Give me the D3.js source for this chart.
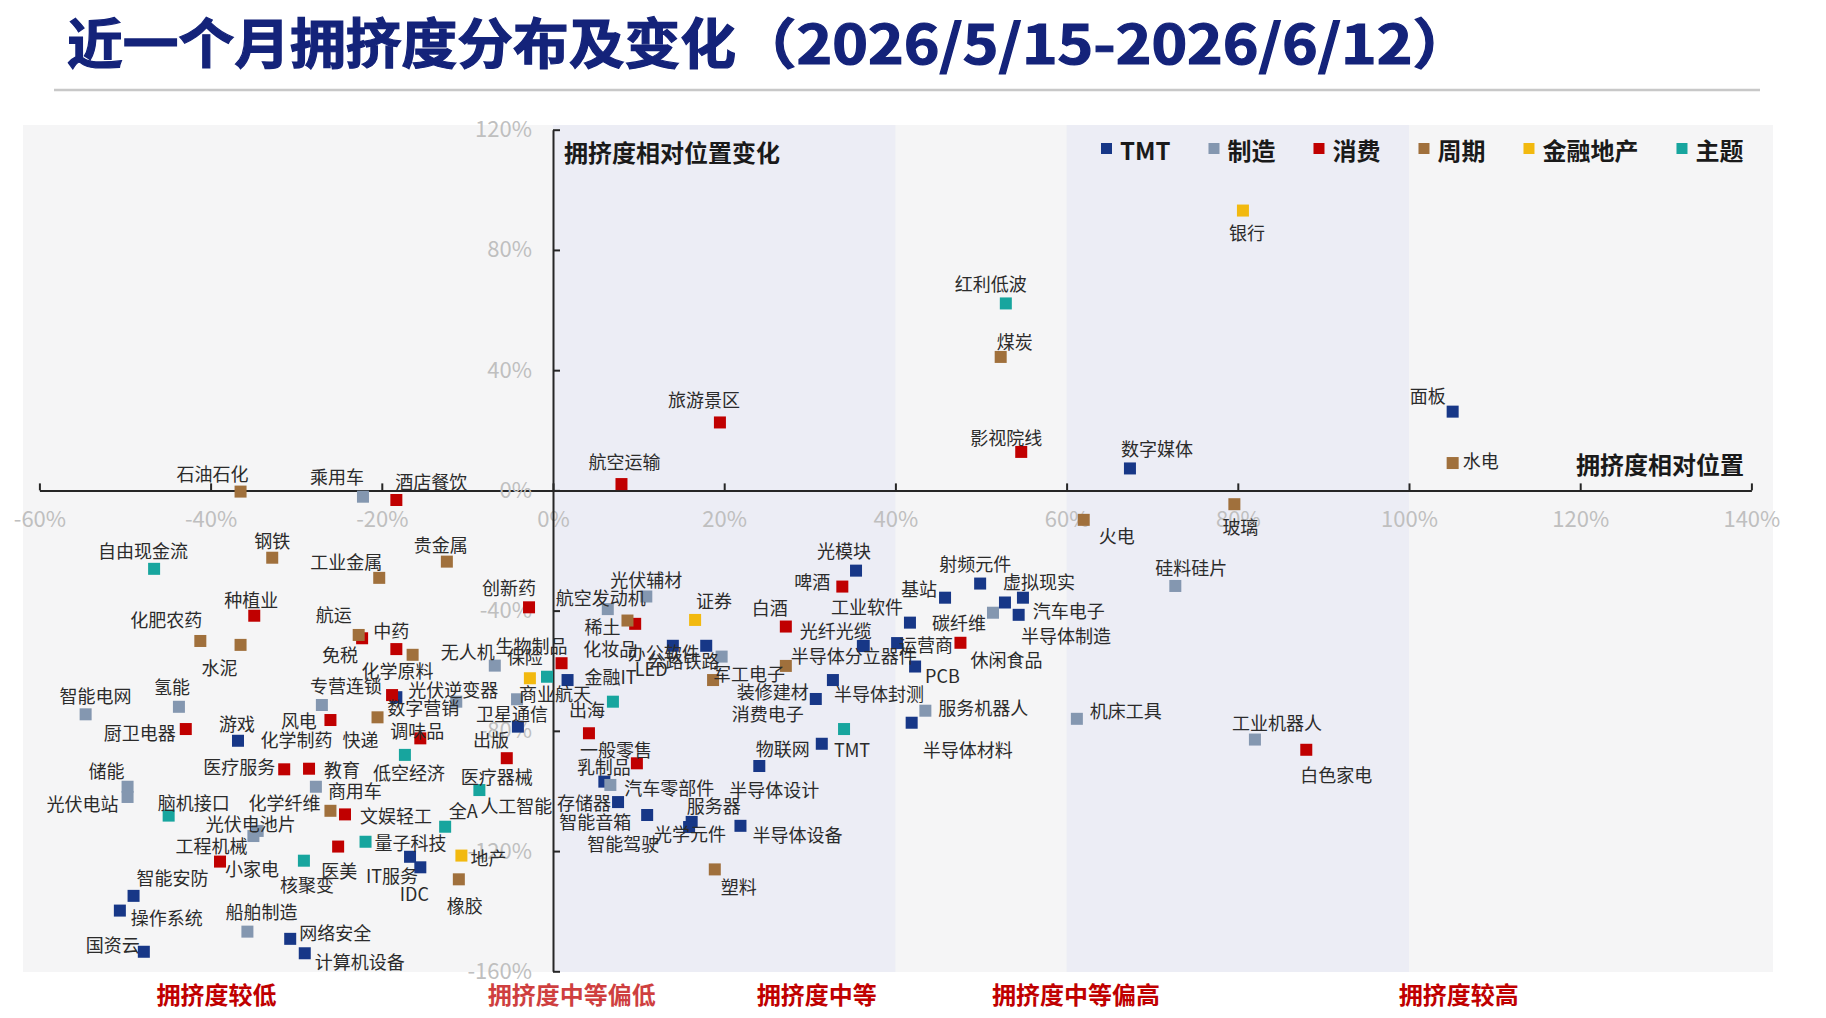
<!DOCTYPE html>
<html>
<head>
<meta charset="utf-8">
<script src="https://cdn.jsdelivr.net/npm/d3@7"></script>
<style>
  body { margin: 0; background: #fff; }
  svg text { font-family: "Noto Sans CJK SC", "Noto Sans", sans-serif; }
</style>
</head>
<body>
<svg id="chart" width="1826" height="1018"></svg>
<script>
// sector groups and their legend colours
var groups = ["TMT", "制造", "消费", "周期", "金融地产", "主题"];
var groupColors = ["#173787", "#8497B0", "#C00000", "#A0703C", "#F2B90F", "#17A59E"];

// sectors: name, group index, crowding position (%), change of position (%)
var sectorNames = [
  // TMT
  "面板", "数字媒体", "光模块", "射频元件", "基站", "虚拟现实", "半导体制造", "汽车电子",
  "工业软件", "运营商", "光纤光缆", "半导体分立器件", "PCB", "半导体封测", "消费电子",
  "半导体材料", "物联网", "半导体设计", "半导体设备", "服务器", "光学元件", "存储器",
  "智能驾驶", "智能音箱", "办公软件", "LED", "金融IT", "出版", "数字营销", "游戏",
  "IT服务", "IDC", "智能安防", "操作系统", "国资云", "网络安全", "计算机设备",
  // 制造
  "乘用车", "硅料硅片", "工业机器人", "机床工具", "碳纤维", "服务机器人", "风电", "智能电网",
  "氢能", "光伏逆变器", "商用车", "储能", "光伏电站", "光伏电池片", "工程机械", "船舶制造",
  "航空发动机", "光伏辅材", "公路铁路", "无人机", "卫星通信", "汽车零部件",
  // 消费
  "酒店餐饮", "航空运输", "旅游景区", "影视院线", "白色家电", "啤酒", "白酒", "休闲食品",
  "种植业", "免税", "中药", "专营连锁", "化学制药", "厨卫电器", "调味品", "医疗服务", "教育",
  "文娱轻工", "小家电", "医美", "创新药", "化妆品", "生物制品", "一般零售", "乳制品", "医疗器械",
  // 周期
  "石油石化", "煤炭", "水电", "玻璃", "火电", "钢铁", "工业金属", "化肥农药", "水泥", "航运",
  "化学原料", "快递", "化学纤维", "贵金属", "稀土", "军工电子", "装修建材", "塑料", "橡胶",
  // 金融地产
  "银行", "证券", "保险", "地产",
  // 主题
  "红利低波", "自由现金流", "低空经济", "脑机接口", "核聚变", "量子科技", "全A", "人工智能",
  "商业航天", "出海", "TMT"
];
var sectorGroups = [
  0,0,0,0,0,0,0,0,0,0,0,0,0,0,0,0,0,0,0,0,0,0,0,0,0,0,0,0,0,0,0,0,0,0,0,0,0,
  1,1,1,1,1,1,1,1,1,1,1,1,1,1,1,1,1,1,1,1,1,1,
  2,2,2,2,2,2,2,2,2,2,2,2,2,2,2,2,2,2,2,2,2,2,2,2,2,2,
  3,3,3,3,3,3,3,3,3,3,3,3,3,3,3,3,3,3,3,
  4,4,4,4,
  5,5,5,5,5,5,5,5,5,5,5
];
var relPosition = [
  105.1, 67.4, 35.4, 49.9, 45.8, 54.9, 52.8, 54.4, 41.7, 40.2, 36.3, 36.2, 42.3, 32.7, 30.7,
  41.9, 31.4, 24.1, 21.9, 16.2, 15.9, 7.6, 11.0, 6.0, 14.0, 17.9, 1.7, -4.1, -18.3, -36.8,
  -16.7, -15.5, -49.0, -50.6, -47.8, -30.7, -29.0,
  -22.2, 72.7, 82.0, 61.2, 51.4, 43.5, -27.0, -54.6, -43.7, -11.3, -27.7, -49.7, -49.7, -34.5,
  -35.0, -35.7, 6.4, 10.9, 19.7, -6.8, -4.2, 6.7,
  -18.3, 8.0, 19.5, 54.7, 88.0, 33.8, 27.2, 47.6, -34.9, -22.3, -18.3, -18.8, -26.0, -42.9,
  -15.5, -31.4, -28.5, -24.3, -38.9, -25.1, -2.8, 9.6, 1.0, 4.2, 9.8, -5.4,
  -36.5, 52.3, 105.1, 79.6, 62.0, -32.8, -20.3, -41.2, -36.5, -22.7, -16.4, -20.5, -26.0,
  -12.4, 8.7, 18.7, 27.2, 18.9, -11.0,
  80.6, 16.6, -2.7, -10.7,
  52.9, -46.6, -17.3, -44.9, -29.1, -21.9, -12.6, -8.6, -0.7, 7.0, 34.0
];
var relChange = [
  26.2, 7.3, -26.7, -31.0, -35.7, -35.7, -37.3, -41.4, -44.0, -50.8, -51.7, -51.8, -58.6,
  -63.1, -69.4, -77.3, -84.3, -91.7, -111.6, -110.3, -112.0, -103.7, -108.0, -96.9, -51.7,
  -51.7, -63.1, -78.6, -68.8, -83.3, -121.9, -125.4, -134.9, -139.8, -153.5, -149.2, -154.0,
  -2.1, -31.8, -82.9, -76.0, -40.7, -73.3, -71.4, -74.5, -72.0, -70.3, -98.6, -98.6, -102.0,
  -113.3, -115.0, -146.8, -39.5, -35.3, -55.3, -58.3, -69.5, -98.0,
  -3.2, 2.1, 22.6, 12.8, -86.3, -32.0, -45.3, -50.7, -41.7, -49.2, -52.8, -68.1, -76.4,
  -79.4, -82.5, -92.8, -92.6, -107.8, -123.5, -118.5, -38.9, -44.4, -57.5, -80.8, -90.8, -89.1,
  -0.4, 44.4, 9.1, -4.6, -9.8, -22.4, -29.1, -50.1, -51.4, -48.1, -54.7, -75.5, -106.6,
  -23.7, -43.3, -63.1, -58.4, -126.1, -129.4,
  93.1, -43.1, -62.5, -121.5,
  62.2, -26.1, -88.0, -108.2, -123.2, -116.9, -111.9, -99.7, -62.0, -70.3, -79.4
];

var xTicks = [-60, -40, -20, 0, 20, 40, 60, 80, 100, 120, 140];
var yTicks = [120, 80, 40, 0, -40, -80, -120, -160];
var bandNames = ["拥挤度较低", "拥挤度中等偏低", "拥挤度中等", "拥挤度中等偏高", "拥挤度较高"];

// layout: where each data label sits relative to its marker [dx, dy, anchor]
var labelPlacement = {
  "面板": [-25, -17, "m"], "数字媒体": [27, -20, "m"], "光模块": [-12, -21, "m"],
  "射频元件": [-5, -21, "m"], "基站": [-8, -10, "e"], "虚拟现实": [16, -17, "m"],
  "半导体制造": [61, 33, "m"], "汽车电子": [14, -5, "s"], "工业软件": [-43, -17, "m"],
  "运营商": [29, 1, "m"], "光纤光缆": [-28, -16, "m"], "半导体分立器件": [-9, 9, "m"],
  "PCB": [10, 8, "s"], "半导体封测": [1, 13, "s"], "消费电子": [-48, 14, "m"],
  "半导体材料": [56, 26, "m"], "物联网": [-12, 4, "e"], "半导体设计": [15, 23, "m"],
  "半导体设备": [12, 8, "s"], "服务器": [22, -17, "m"], "光学元件": [1, 6, "m"],
  "存储器": [-7, 0, "e"], "智能驾驶": [-24, 28, "m"], "智能音箱": [-9, 39, "m"],
  "办公软件": [-9, 6, "m"], "LED": [-55, 22, "m"], "金融IT": [17, -4, "s"],
  "出版": [-27, 12, "m"], "数字营销": [27, 10, "m"], "游戏": [-1, -18, "m"],
  "IT服务": [-18, 18, "m"], "IDC": [-6, 26, "m"], "智能安防": [39, -19, "m"],
  "操作系统": [11, 6, "s"], "国资云": [-31, -8, "m"], "网络安全": [9, -7, "s"],
  "计算机设备": [10, 8, "s"],
  "乘用车": [-26, -21, "m"], "硅料硅片": [16, -19, "m"], "工业机器人": [22, -18, "m"],
  "机床工具": [13, -9, "s"], "碳纤维": [-34, 9, "m"], "服务机器人": [13, -4, "s"],
  "风电": [-23, 15, "m"], "智能电网": [10, -19, "m"], "氢能": [-7, -21, "m"],
  "光伏逆变器": [-3, -13, "m"], "商用车": [12, 3, "s"], "储能": [-21, -17, "m"],
  "光伏电站": [-9, 6, "e"], "光伏电池片": [-7, -8, "m"], "工程机械": [-42, 9, "m"],
  "船舶制造": [14, -21, "m"], "航空发动机": [-7, -12, "m"], "光伏辅材": [0, -17, "m"],
  "公路铁路": [-38, 3, "m"], "无人机": [-27, -15, "m"], "卫星通信": [-5, 14, "m"],
  "汽车零部件": [14, 2, "s"],
  "酒店餐饮": [35, -19, "m"], "航空运输": [3, -23, "m"], "旅游景区": [-16, -23, "m"],
  "影视院线": [-15, -15, "m"], "白色家电": [30, 24, "m"], "啤酒": [-12, -6, "e"],
  "白酒": [-16, -20, "m"], "休闲食品": [46, 16, "m"], "种植业": [-3, -17, "m"],
  "免税": [-22, 16, "m"], "中药": [-5, -19, "m"], "专营连锁": [-46, -10, "m"],
  "化学制药": [-34, 19, "m"], "厨卫电器": [-10, 3, "e"], "调味品": [-3, -8, "m"],
  "医疗服务": [-9, -3, "e"], "教育": [15, 0, "s"], "文娱轻工": [15, 1, "s"],
  "小家电": [32, 6, "m"], "医美": [1, 23, "m"], "创新药": [-20, -20, "m"],
  "化妆品": [-25, 24, "m"], "生物制品": [-30, -18, "m"], "一般零售": [27, 16, "m"],
  "乳制品": [-33, 3, "m"], "医疗器械": [-10, 18, "m"],
  "石油石化": [-28, -19, "m"], "煤炭": [14, -16, "m"], "水电": [10, -3, "s"],
  "玻璃": [6, 22, "m"], "火电": [33, 15, "m"], "钢铁": [0, -18, "m"],
  "工业金属": [-33, -17, "m"], "化肥农药": [-34, -22, "m"], "水泥": [-21, 22, "m"],
  "航运": [-25, -21, "m"], "化学原料": [-15, 15, "m"], "快递": [-17, 22, "m"],
  "化学纤维": [-46, -9, "m"], "贵金属": [-6, -18, "m"], "稀土": [-25, 5, "m"],
  "军工电子": [36, -7, "m"], "装修建材": [-13, 25, "m"], "塑料": [24, 17, "m"],
  "橡胶": [6, 26, "m"],
  "银行": [4, 21, "m"], "证券": [19, -20, "m"], "保险": [-5, -22, "m"], "地产": [9, 1, "s"],
  "红利低波": [-15, -20, "m"], "自由现金流": [-11, -19, "m"], "低空经济": [4, 17, "m"],
  "脑机接口": [25, -14, "m"], "核聚变": [3, 23, "m"], "量子科技": [9, 0, "s"],
  "全A": [18, -17, "m"], "人工智能": [37, 15, "m"], "商业航天": [8, 16, "m"],
  "出海": [-26, 7, "m"], "TMT": [8, 20, "m"]
};
var bandLabelAt = [-39.3, 2.2, 30.8, 61.1, 105.8];
var lavenderBands = [[0, 40], [60, 100]];

var svg = d3.select("#chart");
var x = d3.scaleLinear().domain([-60, 140]).range([39.4, 1751.4]);
var y = d3.scaleLinear().domain([-160, 120]).range([971.3, 129.7]);
var anchorOf = { m: "middle", s: "start", e: "end" };

// title
svg.append("text")
  .attr("x", 67).attr("y", 40)
  .attr("dominant-baseline", "central")
  .attr("font-size", 54).attr("font-weight", 700).attr("fill", "#14237A")
  .attr("stroke", "#14237A").attr("stroke-width", 1.2)
  .attr("textLength", 669).attr("lengthAdjust", "spacingAndGlyphs")
  .text("近一个月拥挤度分布及变化");
svg.append("text")
  .attr("x", 736).attr("y", 40)
  .attr("dominant-baseline", "central")
  .attr("font-size", 54).attr("font-weight", 700).attr("fill", "#14237A")
  .attr("stroke", "#14237A").attr("stroke-width", 1.2)
  .attr("textLength", 737).attr("lengthAdjust", "spacingAndGlyphs")
  .text("（2026/5/15-2026/6/12）");
svg.append("line")
  .attr("x1", 54).attr("x2", 1760).attr("y1", 90).attr("y2", 90)
  .attr("stroke", "#C8C8C8").attr("stroke-width", 2.5);

// plot background and bands
svg.append("rect")
  .attr("x", 23).attr("y", 125).attr("width", 1750).attr("height", 847)
  .attr("fill", "#F5F5F6");
svg.selectAll(".band")
  .data(lavenderBands)
  .enter()
  .append("rect")
  .attr("class", "band")
  .attr("x", (d) => x(d[0]))
  .attr("width", (d) => x(d[1]) - x(d[0]))
  .attr("y", 125).attr("height", 847)
  .attr("fill", "#ECEDF5");

// axes
var xAxis = d3.axisBottom(x).tickValues(xTicks).tickSizeInner(-7).tickSizeOuter(0)
  .tickPadding(21).tickFormat((d) => d + "%");
var yAxis = d3.axisLeft(y).tickValues(yTicks).tickSizeInner(-7).tickSizeOuter(0)
  .tickPadding(21).tickFormat((d) => d + "%");

var gx = svg.append("g").attr("transform", "translate(0," + y(0) + ")").call(xAxis);
var gy = svg.append("g").attr("transform", "translate(" + x(0) + ",0)").call(yAxis);
[gx, gy].forEach(function (g) {
  g.attr("font-size", 22).attr("font-family", "'Open Sans', 'Noto Sans', sans-serif");
  g.selectAll("path, line").attr("stroke", "#262626").attr("stroke-width", 2);
  g.selectAll("text").attr("fill", "#BFBFBF");
});

// axis titles
svg.append("text")
  .attr("x", 564).attr("y", 151).attr("dominant-baseline", "central")
  .attr("font-size", 24).attr("font-weight", 700).attr("fill", "#1a1a1a")
  .text("拥挤度相对位置变化");
svg.append("text")
  .attr("x", 1744).attr("y", 463).attr("dominant-baseline", "central")
  .attr("text-anchor", "end")
  .attr("font-size", 24).attr("font-weight", 700).attr("fill", "#1a1a1a")
  .text("拥挤度相对位置");

// points, drawn series by series
var points = sectorNames.map(function (name, i) {
  return { name: name, group: sectorGroups[i], px: relPosition[i], py: relChange[i] };
});
points.sort((a, b) => a.group - b.group);

svg.append("g")
  .selectAll("rect")
  .data(points)
  .enter()
  .append("rect")
  .attr("x", (d) => x(d.px) - 6)
  .attr("y", (d) => y(d.py) - 6)
  .attr("width", 12)
  .attr("height", 12)
  .attr("fill", (d) => groupColors[d.group]);

svg.append("g")
  .selectAll("text")
  .data(points)
  .enter()
  .append("text")
  .attr("x", (d) => x(d.px) + labelPlacement[d.name][0])
  .attr("y", (d) => y(d.py) + labelPlacement[d.name][1])
  .attr("text-anchor", (d) => anchorOf[labelPlacement[d.name][2]])
  .attr("dominant-baseline", "central")
  .attr("font-size", 18)
  .attr("fill", "#2b2b2b")
  .text((d) => d.name);

// legend
var legend = svg.append("g");
var lx = 1101;
groups.forEach(function (name, i) {
  legend.append("rect")
    .attr("x", lx).attr("y", 143).attr("width", 11).attr("height", 11)
    .attr("fill", groupColors[i]);
  var t = legend.append("text")
    .attr("x", lx + 19).attr("y", 149).attr("dominant-baseline", "central")
    .attr("font-size", 24).attr("font-weight", 700).attr("fill", "#1a1a1a")
    .text(name);
  lx += 19 + t.node().getComputedTextLength() + 38;
});

// crowding band labels under the plot
svg.selectAll(".bandLabel")
  .data(bandNames)
  .enter()
  .append("text")
  .attr("class", "bandLabel")
  .attr("x", (d, i) => x(bandLabelAt[i]))
  .attr("y", 993)
  .attr("text-anchor", "middle")
  .attr("dominant-baseline", "central")
  .attr("font-size", 24).attr("font-weight", 700)
  .attr("fill", "#C00000")
  .attr("opacity", (d, i) => (i === 1 ? 0.75 : 1))
  .text((d) => d);
</script>
</body>
</html>
